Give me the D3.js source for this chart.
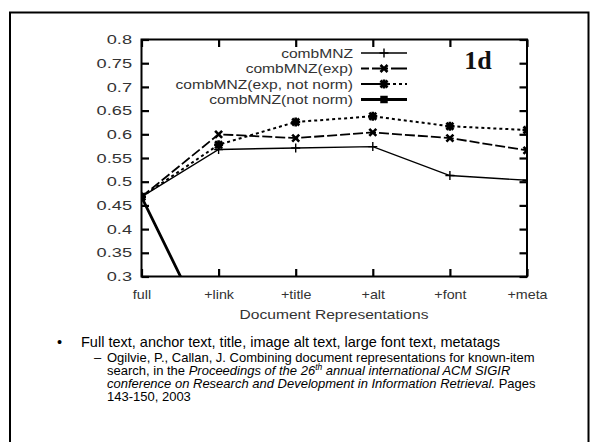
<!DOCTYPE html>
<html>
<head>
<meta charset="utf-8">
<script src="https://cdn.jsdelivr.net/npm/d3@7"></script>
<style>
body{margin:0;background:#fff;}
</style>
</head>
<body>
<div id="chart"></div>
<script>
var W=592,H=442;
var categories=["full","+link","+title","+alt","+font","+meta"];
var combMNZ=[0.468,0.568,0.571,0.574,0.513,0.503];
var combMNZexp=[0.468,0.600,0.592,0.604,0.592,0.566];
var combMNZexpNotNorm=[0.468,0.578,0.626,0.638,0.617,0.609];
var combMNZnotNorm=[0.468,0.136,0.14,0.14,0.13,0.13];
var yTicks=[0.3,0.35,0.4,0.45,0.5,0.55,0.6,0.65,0.7,0.75,0.8];
var seriesNames=["combMNZ","combMNZ(exp)","combMNZ(exp, not norm)","combMNZ(not norm)"];

var padL=141.5,padR=527,padT=39.5,padB=276.5;
var SX=1.2; // the figure's text is stretched sideways
var SANS="Liberation Sans, Arial, Helvetica, sans-serif";

var svg=d3.select("#chart").append("svg").attr("width",W).attr("height",H)
	.attr("font-family",SANS);
svg.append("rect").attr("width",W).attr("height",H).attr("fill","#fff");
// slide frame
svg.append("rect").attr("x",10).attr("y",12.5).attr("width",578.5).attr("height",H)
	.attr("fill","none").attr("stroke","#000").attr("stroke-width",2);

var x=d3.scalePoint().domain(categories).range([padL,padR]);
var y=d3.scaleLinear().domain([0.3,0.8]).range([padB,padT]);

// ticks on all four sides, pointing in
var fmt=d3.format("~g");
var gL=svg.append("g").attr("transform","translate("+padL+",0)")
	.call(d3.axisLeft(y).tickValues(yTicks).tickFormat(fmt).tickSize(-7.5));
var gR=svg.append("g").attr("transform","translate("+padR+",0)")
	.call(d3.axisRight(y).tickValues(yTicks).tickFormat("").tickSize(-7.5));
var gB=svg.append("g").attr("transform","translate(0,"+padB+")")
	.call(d3.axisBottom(x).tickSize(-7.5).tickPadding(13));
var gT=svg.append("g").attr("transform","translate(0,"+padT+")")
	.call(d3.axisTop(x).tickFormat("").tickSize(-7.5));
[gL,gR,gB,gT].forEach(function(g){
	g.attr("font-family",SANS);
	g.select(".domain").remove();
	g.selectAll(".tick line").attr("stroke","#000").attr("stroke-width",2.2);
	g.selectAll("text").attr("font-size",13).attr("fill","#333");
});
gL.selectAll("text").attr("transform","scale(1.4,1)").attr("x",-9.5/1.4);
gB.selectAll("text").attr("transform","scale(1.1,1)");

svg.append("rect").attr("x",padL).attr("y",padT).attr("width",padR-padL).attr("height",padB-padT)
	.attr("fill","none").attr("stroke","#000").attr("stroke-width",2);

svg.append("defs").append("clipPath").attr("id","clip")
	.append("rect").attr("x",padL).attr("y",padT).attr("width",padR-padL).attr("height",padB-padT);

var styles=[
	{vals:combMNZ,w:1.4,dash:null,leg:null,mark:"plus"},
	{vals:combMNZexp,w:1.8,dash:"10,3",leg:"8,3,16,3,16",mark:"x"},
	{vals:combMNZexpNotNorm,w:2,dash:"3,3",leg:"23,3,3,3,3,3,3,3,3",mark:"star"},
	{vals:combMNZnotNorm,w:2.8,dash:null,leg:null,mark:"square"}
];
var markPath={
	plus:"M-4.5,0H4.5M0,-4.5V4.5",
	x:"M-3.5,-3.5L3.5,3.5M-3.5,3.5L3.5,-3.5",
	star:"M-4.5,0H4.5M0,-4.5V4.5M-3.5,-3.5L3.5,3.5M-3.5,3.5L3.5,-3.5",
	square:d3.symbol(d3.symbolSquare,56)()
};
function drawMark(g,m,px,py){
	var p=g.append("path").attr("d",markPath[m]).attr("transform","translate("+px+","+py+")");
	if(m=="square")p.attr("fill","#000");
	else p.attr("fill","none").attr("stroke","#000").attr("stroke-width",m=="plus"?1.4:2.6);
}

var line=d3.line().x(function(d,i){return x(categories[i]);}).y(function(d){return y(d);});
var gLines=svg.append("g").attr("clip-path","url(#clip)");
styles.forEach(function(s){
	gLines.append("path").attr("d",line(s.vals)).attr("fill","none").attr("stroke","#000")
		.attr("stroke-width",s.w).attr("stroke-dasharray",s.dash);
	s.vals.forEach(function(v,i){
		if(v>=0.3&&v<=0.8)drawMark(gLines,s.mark,x(categories[i]),y(v));
	});
});

// legend
var legY=[53,68.5,84,99.5];
var gLeg=svg.append("g");
seriesNames.forEach(function(n,i){
	var s=styles[i];
	gLeg.append("text").attr("transform","translate(353,"+(legY[i]+4.5)+") scale("+SX+",1)")
		.attr("text-anchor","end").attr("font-size",13).attr("fill","#333").text(n);
	gLeg.append("line").attr("x1",361).attr("x2",407).attr("y1",legY[i]).attr("y2",legY[i])
		.attr("stroke","#000").attr("stroke-width",s.w).attr("stroke-dasharray",s.leg);
	drawMark(gLeg,s.mark,384,legY[i]);
});

svg.append("text").attr("transform","translate(478,69)").attr("text-anchor","middle")
	.attr("font-family","Liberation Serif, Times New Roman, serif").attr("font-weight","bold")
	.attr("font-size",26).attr("fill","#111").text("1d");

svg.append("text").attr("transform","translate(334,319) scale("+SX+",1)").attr("text-anchor","middle")
	.attr("font-size",13).attr("fill","#333").text("Document Representations");

// slide text
svg.append("text").attr("x",57).attr("y",347).attr("font-size",14.5).text("\u2022");
svg.append("text").attr("x",81).attr("y",347).attr("font-size",14.5)
	.text("Full text, anchor text, title, image alt text, large font text, metatags");
svg.append("text").attr("x",94).attr("y",361.5).attr("font-size",13).text("\u2013");
var sub=svg.append("text").attr("font-size",13);
sub.append("tspan").attr("x",107).attr("y",361.5)
	.text("Ogilvie, P., Callan, J. Combining document representations for known-item");
var l2=sub.append("tspan").attr("x",107).attr("y",374.8);
l2.append("tspan").text("search, in the ");
l2.append("tspan").attr("font-style","italic").text("Proceedings of the 26");
l2.append("tspan").attr("font-style","italic").attr("font-size",8.5).attr("dy",-4.5).text("th");
l2.append("tspan").attr("font-style","italic").attr("dy",4.5).text(" annual international ACM SIGIR");
var l3=sub.append("tspan").attr("x",107).attr("y",388.1);
l3.append("tspan").attr("font-style","italic").text("conference on Research and Development in Information Retrieval.");
l3.append("tspan").text(" Pages");
sub.append("tspan").attr("x",107).attr("y",401.4).text("143-150, 2003");
</script>
</body>
</html>
